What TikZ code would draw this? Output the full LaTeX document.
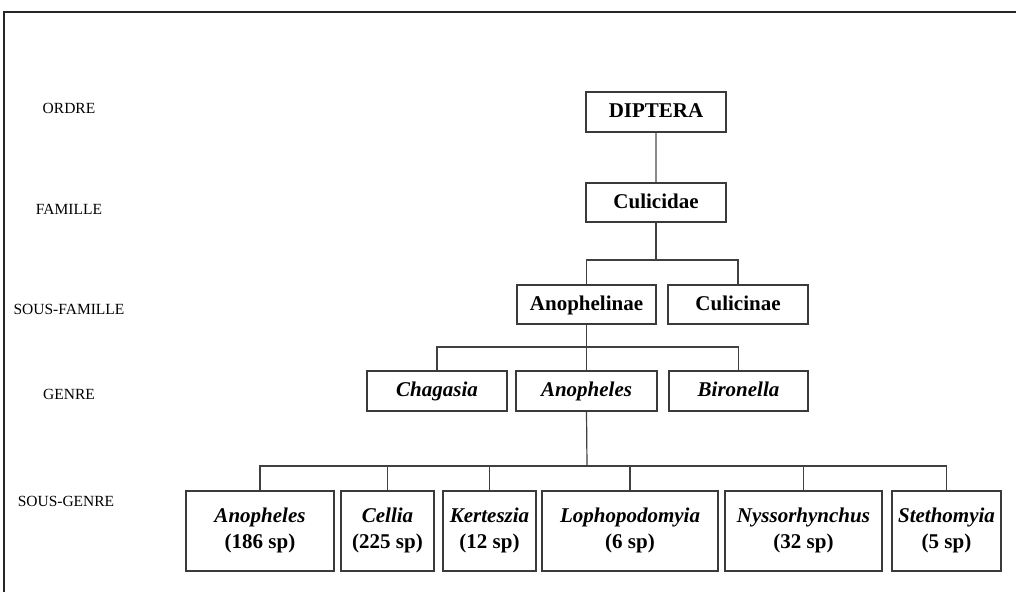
\documentclass[tikz,border=0pt]{standalone}
\usepackage{fontspec}
\setmainfont{Liberation Serif}
\definecolor{boxcol}{HTML}{3A3A3A}
\definecolor{linecol}{HTML}{404040}
\definecolor{lightline}{HTML}{8A8A8A}
\begin{document}
\begin{tikzpicture}[x=1pt,y=-1pt,
  box/.style={draw=boxcol, line width=1.2pt, fill=white, inner sep=0pt,
    font=\fontsize{21}{26}\selectfont\bfseries, align=center},
  onel/.style={box, text height=15pt, text depth=4pt},
  twol/.style={box, minimum height=80pt, text height=41pt, text depth=7pt},
  lvl/.style={font=\fontsize{15.5}{18}\selectfont, inner sep=0pt},
  con/.style={draw=linecol, line width=1.2pt},
  frame/.style={draw=black!85, line width=1.3pt}]
\useasboundingbox (0,0) rectangle (1016,592);
\fill[white] (0,0) rectangle (1016,592);
\draw[frame] (4,592) -- (4,12) -- (1016,12);

% level labels
\node[lvl] (l1) at (69,108) {ORDRE};
\node[lvl] (l2) at (69,209) {FAMILLE};
\node[lvl] (l3) at (69,309) {SOUS-FAMILLE};
\node[lvl] (l4) at (69,394) {GENRE};
\node[lvl] (l5) at (66,501) {SOUS-GENRE};

% ordre / famille
\node[onel, minimum width=140pt, minimum height=40pt] (dip) at (656,112) {DIPTERA};
\node[onel, minimum width=140pt, minimum height=39pt] (cul) at (656,202.5) {Culicidae};

% sous-familles
\node[onel, minimum width=139pt, minimum height=39pt] (anoph) at (586.5,304.5) {Anophelinae};
\node[onel, minimum width=140pt, minimum height=39pt] (culi) at (738,304.5) {Culicinae};

% genres
\node[onel, minimum width=140pt, minimum height=40pt] (chag) at (437,391) {\itshape Chagasia};
\node[onel, minimum width=141pt, minimum height=40pt] (anos) at (586.5,391) {\itshape Anopheles};
\node[onel, minimum width=139pt, minimum height=40pt] (biro) at (738.5,391) {\itshape Bironella};

% sous-genres
\node[twol, minimum width=148pt] (sg1) at (260,531) {{\itshape Anopheles}\\(186 sp)};
\node[twol, minimum width=93pt] (sg2) at (387.5,531) {{\itshape Cellia}\\(225 sp)};
\node[twol, minimum width=93pt] (sg3) at (489.5,531) {{\itshape Kerteszia}\\(12 sp)};
\node[twol, minimum width=176pt] (sg4) at (630,531) {{\itshape Lophopodomyia}\\(6 sp)};
\node[twol, minimum width=157pt] (sg5) at (803.5,531) {{\itshape Nyssorhynchus}\\(32 sp)};
\node[twol, minimum width=109pt] (sg6) at (946.5,531) {{\itshape Stethomyia}\\(5 sp)};

% connectors
\coordinate (j1) at (656,260);
\coordinate (j2) at (587,347);
\coordinate (j3) at (587,466);
\draw[con, draw=lightline] (dip) -- (cul);
\draw[con] (cul.south) -- (j1);
\draw[con] (anoph.north) |- (j1) -| (culi.north);
\draw[con] (chag.north) |- (j2) -| (biro.north);
\draw[con] (anoph.south) -- (anos.north);
\draw[con] (anos.south) -- (j3);
\draw[con] (sg1.north) |- (j3) -| (sg6.north);
\foreach \n in {sg2,sg3,sg4,sg5} {
  \draw[con] (\n.north) -- (\n.north |- j3);
}
\end{tikzpicture}
\end{document}
